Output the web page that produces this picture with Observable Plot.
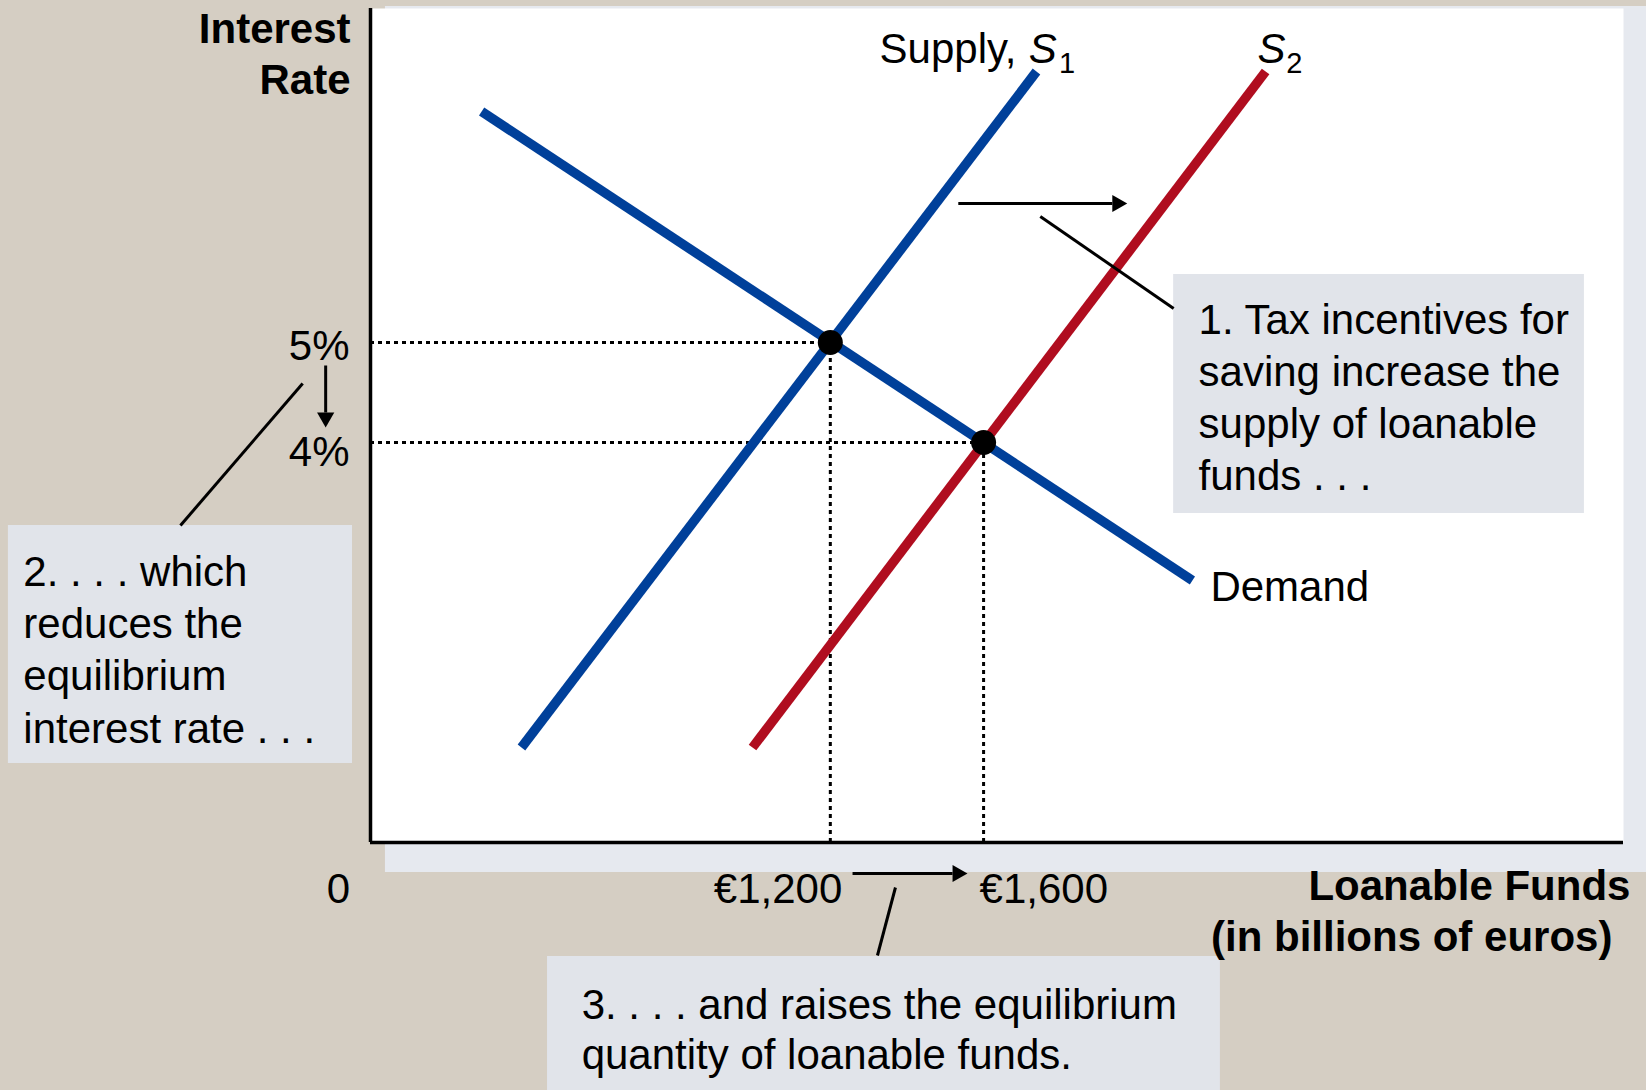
<!DOCTYPE html>
<html>
<head>
<meta charset="utf-8">
<script src="https://cdn.jsdelivr.net/npm/d3@7"></script>
<script src="https://cdn.jsdelivr.net/npm/@observablehq/plot@0.6"></script>
<style>
  html, body { margin: 0; padding: 0; background: #d5cec3; overflow: hidden; }
  svg { display: block; }
</style>
</head>
<body>
<div id="chart"></div>
<script>
// ---------- data ----------
const demand   = [{q: 290, r: 7.31}, {q: 2145, r: 2.62}];
const supply1  = [{q: 394, r: 0.95}, {q: 1738, r: 7.71}];
const supply2  = [{q: 997, r: 0.95}, {q: 2336, r: 7.71}];
const equilibria = [{q: 1200, r: 5}, {q: 1600, r: 4}];

const rateTicks = [5, 4];
const rateTickLabels = ["5%", "4%"];
const fundTicks = [1200, 1600];
const fundTickLabels = ["€1,200", "€1,600"];

const note1 = "1. Tax incentives for\nsaving increase the\nsupply of loanable\nfunds . . .";
const note2 = "2. . . . which\nreduces the\nequilibrium\ninterest rate . . .";
const note3 = "3. . . . and raises the equilibrium\nquantity of loanable funds.";

// ---------- styles ----------
const FONT = "'Liberation Sans', Arial, Helvetica, sans-serif";
const BLUE = "#00409a", RED = "#b00d1f", NOTE = "#e1e4ea", PANEL = "#e6e9ef";
const FS = 42;

// ---------- annotation layout (data units) ----------
const panelBack = [{x1: 39, x2: 3330, y1: -0.30, y2: 8.36}];
const boxes = [
  {x1: 2096, x2: 3168, y1: 3.29, y2: 5.68},
  {x1: -945, x2: -47, y1: 0.79, y2: 3.17},
  {x1: 462, x2: 2218, y1: -2.7, y2: -1.14}
];
const leaders = [
  {x1: 1748, y1: 6.26, x2: 2096, y2: 5.34},
  {x1: -177, y1: 4.59, x2: -496, y2: 3.17},
  {x1: 1370, y1: -0.45, x2: 1323, y2: -1.13}
];
// arrows: shaft + filled head
const hArrows = [
  {x1: 1534, x2: 1962, y: 6.39},
  {x1: 1258, x2: 1545, y: -0.31}
];
const vArrows = [{x: -117, y1: 4.77, y2: 4.20}];

const txt = (d, o) => Plot.text([d], {x: "x", y: "y", text: "text", lineAnchor: "bottom",
  fontFamily: FONT, fontSize: FS, fill: "black", textAnchor: "start", ...o});

const chart = Plot.plot({
  width: 1646,
  height: 1090,
  marginLeft: 370,
  marginRight: 23,
  marginTop: 8,
  marginBottom: 248,
  x: {domain: [0, 3270], axis: null},
  y: {domain: [0, 8.34], axis: null},
  style: {background: "#d5cec3", fontFamily: FONT, overflow: "visible"},
  marks: [
    Plot.rect(panelBack, {x1: "x1", x2: "x2", y1: "y1", y2: "y2", fill: PANEL}),
    Plot.frame({fill: "white", stroke: "none"}),
    Plot.rect(boxes, {x1: "x1", x2: "x2", y1: "y1", y2: "y2", fill: NOTE}),
    // dotted guide lines
    Plot.ruleY(equilibria, {y: "r", x1: () => 0, x2: "q", stroke: "black", strokeWidth: 3, strokeDasharray: "4,4"}),
    Plot.ruleX(equilibria, {x: "q", y1: () => 0, y2: "r", stroke: "black", strokeWidth: 3, strokeDasharray: "4,4"}),
    // curves
    Plot.line(supply2, {x: "q", y: "r", stroke: RED, strokeWidth: 9.5, strokeLinecap: "butt"}),
    Plot.line(supply1, {x: "q", y: "r", stroke: BLUE, strokeWidth: 9.5, strokeLinecap: "butt"}),
    Plot.line(demand, {x: "q", y: "r", stroke: BLUE, strokeWidth: 9.5, strokeLinecap: "butt"}),
    Plot.dot(equilibria, {x: "q", y: "r", r: 12.5, fill: "black", stroke: "none"}),
    // axes
    Plot.ruleX([0], {stroke: "black", strokeWidth: 3.5}),
    Plot.ruleY([0], {stroke: "black", strokeWidth: 3.5}),
    // leaders
    Plot.link(leaders, {x1: "x1", y1: "y1", x2: "x2", y2: "y2", stroke: "black", strokeWidth: 3}),
    // arrows
    Plot.link(hArrows, {x1: "x1", x2: d => d.x2 - 26, y1: "y", y2: "y", stroke: "black", strokeWidth: 3}),
    Plot.dot(hArrows, {x: d => d.x2 - 13, y: "y", symbol: "triangle", r: 6.4, rotate: 90, fill: "black", stroke: "none"}),
    Plot.link(vArrows, {x1: "x", x2: "x", y1: "y1", y2: d => d.y2 + 0.10, stroke: "black", strokeWidth: 3}),
    Plot.dot(vArrows, {x: "x", y: d => d.y2 + 0.05, symbol: "triangle", r: 6.4, rotate: 180, fill: "black", stroke: "none"}),
    // tick labels
    txt({x: 0, y: rateTicks[0], text: rateTickLabels[0]}, {textAnchor: "end", dx: -21, dy: 17}),
    txt({x: 0, y: rateTicks[1], text: rateTickLabels[1]}, {textAnchor: "end", dx: -21, dy: 23}),
    txt({x: fundTicks[0], y: 0, text: fundTickLabels[0]}, {textAnchor: "end", dx: 12, dy: 60}),
    txt({x: fundTicks[1], y: 0, text: fundTickLabels[1]}, {textAnchor: "start", dx: -4, dy: 60}),
    txt({x: 0, y: 0, text: "0"}, {textAnchor: "middle", dx: -32, dy: 60}),
    // axis titles
    txt({x: -52, y: 7.49, text: "Interest\nRate"}, {textAnchor: "end", fontWeight: "bold", lineHeight: 1.214}),
    txt({x: 3288, y: -0.57, text: "Loanable Funds"}, {textAnchor: "end", fontWeight: "bold"}),
    txt({x: 3241, y: -1.08, text: "(in billions of euros)"}, {textAnchor: "end", fontWeight: "bold"}),
    // curve labels
    txt({x: 1686, y: 7.80, text: "Supply,"}, {textAnchor: "end"}),
    txt({x: 1718, y: 7.80, text: "S"}, {fontStyle: "italic"}),
    txt({x: 1797, y: 7.70, text: "1"}, {fontSize: 29}),
    txt({x: 2315, y: 7.80, text: "S"}, {fontStyle: "italic"}),
    txt({x: 2390, y: 7.70, text: "2"}, {fontSize: 29}),
    txt({x: 2192, y: 2.42, text: "Demand"}),
    // notes
    txt({x: 2161, y: 3.53, text: note1}, {lineHeight: 1.238}),
    txt({x: -906, y: 1.00, text: note2}, {lineHeight: 1.245}),
    txt({x: 551, y: -2.26, text: note3}, {lineHeight: 1.19})
  ]
});
document.getElementById("chart").appendChild(chart);
</script>
</body>
</html>
